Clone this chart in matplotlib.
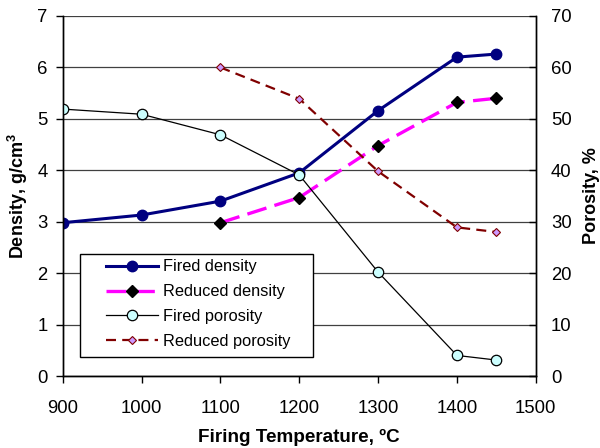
import matplotlib
matplotlib.use("Agg")
import matplotlib.pyplot as plt
from matplotlib.patches import Rectangle
import numpy as np

plt.rcParams['font.family'] = ['Liberation Sans', 'DejaVu Sans']
plt.rcParams['mathtext.fontset'] = 'custom'
plt.rcParams['mathtext.bf'] = 'Liberation Sans:bold'
plt.rcParams['mathtext.rm'] = 'Liberation Sans'

temps = [900, 1000, 1100, 1200, 1300, 1400, 1450]
fired_density = [2.98, 3.13, 3.40, 3.95, 5.16, 6.20, 6.26]
red_temps = [1100, 1200, 1300, 1400, 1450]
reduced_density = [2.98, 3.47, 4.48, 5.32, 5.40]
fired_porosity = [51.9, 50.9, 46.9, 39.1, 20.2, 4.0, 3.1]
reduced_porosity = [60.0, 53.9, 39.8, 28.9, 28.0]

fig = plt.figure(figsize=(6.0, 4.48), dpi=100)
ax = fig.add_axes([0.1045, 0.1607, 0.7885, 0.8036])
ax2 = ax.twinx()

ax.set_zorder(1)
ax2.set_zorder(2)
ax2.patch.set_visible(False)

l1, = ax.plot(temps, fired_density, color="#000080", lw=2.2, marker="o",
              ms=7.5, mfc="#000080", mec="#000080", label="Fired density")
l2, = ax.plot(red_temps, reduced_density, color="#FF00FF", lw=2.4,
              dashes=(6, 2.5), marker="D", ms=6.5, mfc="k", mec="k",
              label="Reduced density")
l3, = ax2.plot(temps, fired_porosity, color="k", lw=0.9, marker="o",
               ms=7.5, mfc="#CCFFFF", mec="k", mew=0.9,
               label="Fired porosity")
l4, = ax2.plot(red_temps, reduced_porosity, color="#800000", lw=1.6,
               dashes=(4.5, 2.8), marker="D", ms=4.5, mfc="#CC99FF",
               mec="#800000", mew=0.8, label="Reduced porosity")

ax.set_xlim(900, 1500)
ax.set_ylim(0, 7)
ax2.set_ylim(0, 70)
ax.set_xticks(np.arange(900, 1501, 100))
ax.set_yticks(np.arange(0, 8, 1))
ax2.set_yticks(np.arange(0, 71, 10))

ax.grid(True, axis="y", color="#404040", lw=0.9)
ax.set_axisbelow(True)

for a in (ax, ax2):
    a.spines['top'].set_visible(False)
    for s in ('left', 'right', 'bottom'):
        a.spines[s].set_linewidth(1.0)
    a.tick_params(length=5, width=1.0, labelsize=13.3, colors="k")

ax.tick_params(axis="x", direction="out", pad=12)
ax.tick_params(axis="y", direction="out", pad=6)
ax2.tick_params(axis="y", direction="in", pad=11)

ax.set_xlabel("Firing Temperature, ºC", fontsize=13.6, fontweight="bold",
              labelpad=9)
ax.set_ylabel(r"Density, g/cm$\mathbf{^{3}}$", fontsize=13,
              fontweight="bold", labelpad=5)
ax2.set_ylabel("Porosity, %", fontsize=13, fontweight="bold", labelpad=8)

# legend box drawn separately so it keeps the wide side margins
box = Rectangle((0.0366, 0.0528), 0.4925, 0.2861, transform=ax2.transAxes,
                facecolor="white", edgecolor="k", lw=1.0, zorder=4)
ax2.add_patch(box)
leg = ax2.legend(handles=[l1, l2, l3, l4], loc="center left",
                 bbox_to_anchor=(0.0915, 0.1994), borderaxespad=0,
                 borderpad=0, fontsize=11.8, frameon=False,
                 handlelength=3.2, handletextpad=0.3, labelspacing=0.6)
leg.set_zorder(5)

fig.savefig("out.png", dpi=100)
